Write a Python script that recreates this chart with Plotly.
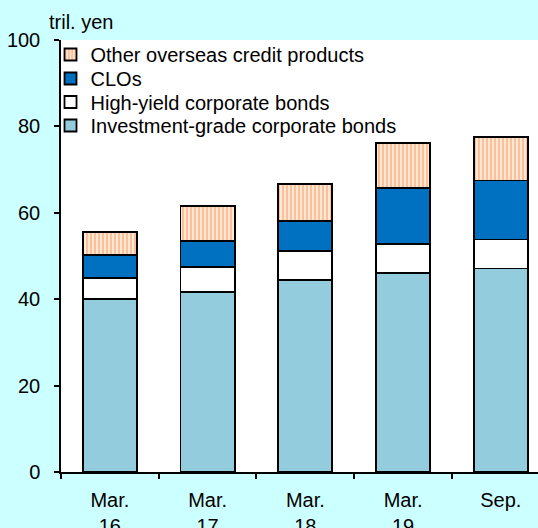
import plotly.graph_objects as go

categories = ["Mar.<br>16", "Mar.<br>17", "Mar.<br>18", "Mar.<br>19", "Sep."]
investment_grade = [40.0, 41.6, 44.4, 46.1, 47.1]
high_yield = [5.0, 5.9, 6.7, 6.7, 6.7]
clos = [5.3, 5.9, 7.0, 13.0, 13.7]
other_credit = [5.2, 8.1, 8.6, 10.3, 10.0]

y_ticks = [0, 20, 40, 60, 80, 100]

FONT = "Liberation Sans, Arial, sans-serif"
FS = 20
line = dict(color="black", width=1.8)

fig = go.Figure()
fig.add_trace(go.Bar(x=categories, y=investment_grade, name="Investment-grade corporate bonds",
                     legend="legend4", marker=dict(color="#93CDDD", line=line)))
fig.add_trace(go.Bar(x=categories, y=high_yield, name="High-yield corporate bonds",
                     legend="legend3", marker=dict(color="#FFFFFF", line=line)))
fig.add_trace(go.Bar(x=categories, y=clos, name="CLOs",
                     legend="legend2", marker=dict(color="#0070C0", line=line)))
fig.add_trace(go.Bar(x=categories, y=other_credit, name="Other overseas credit products",
                     legend="legend",
                     marker=dict(color="#FFFFFF", line=line,
                                 pattern=dict(shape="|", fgcolor="#F7904A", bgcolor="#FFF0E4",
                                              size=4, solidity=0.6, fillmode="overlay"))))

def leg(yc):
    return dict(x=-0.022, y=yc, xanchor="left", yanchor="middle",
                bgcolor="rgba(0,0,0,0)", font=dict(size=FS), itemwidth=30,
                borderwidth=0)

fig.update_layout(
    width=538, height=528,
    barmode="stack", bargap=0.447,
    paper_bgcolor="#CCFFFF", plot_bgcolor="#FFFFFF",
    margin=dict(l=61, r=0, t=40, b=56, autoexpand=False),
    font=dict(family=FONT, size=FS, color="#000000"),
    showlegend=True,
    legend=leg(0.9664),
    legend2=leg(0.9109),
    legend3=leg(0.8565),
    legend4=leg(0.8021),
    xaxis=dict(range=[-0.5, 4.38], showline=True, linecolor="black", linewidth=1.5,
               ticks="outside", tickson="boundaries", ticklen=5, tickwidth=1.5,
               tickcolor="black", showgrid=False, tickfont=dict(size=FS),
               ticklabelstandoff=9, automargin=False, fixedrange=True),
    yaxis=dict(range=[0, 100], tickvals=y_ticks, showline=True, linecolor="black",
               linewidth=1.5, ticks="outside", ticklen=5, tickwidth=1.5, tickcolor="black",
               showgrid=False, zeroline=False, tickfont=dict(size=FS),
               ticklabelstandoff=10, automargin=False, fixedrange=True),
    annotations=[dict(text="tril. yen", xref="paper", yref="paper", x=-0.03, y=1.042,
                      xanchor="left", yanchor="middle", showarrow=False,
                      font=dict(size=FS))],
)

fig.write_html("out.html", config={"displayModeBar": False},
               post_script="document.body.style.margin='0';document.body.style.overflow='hidden';")
